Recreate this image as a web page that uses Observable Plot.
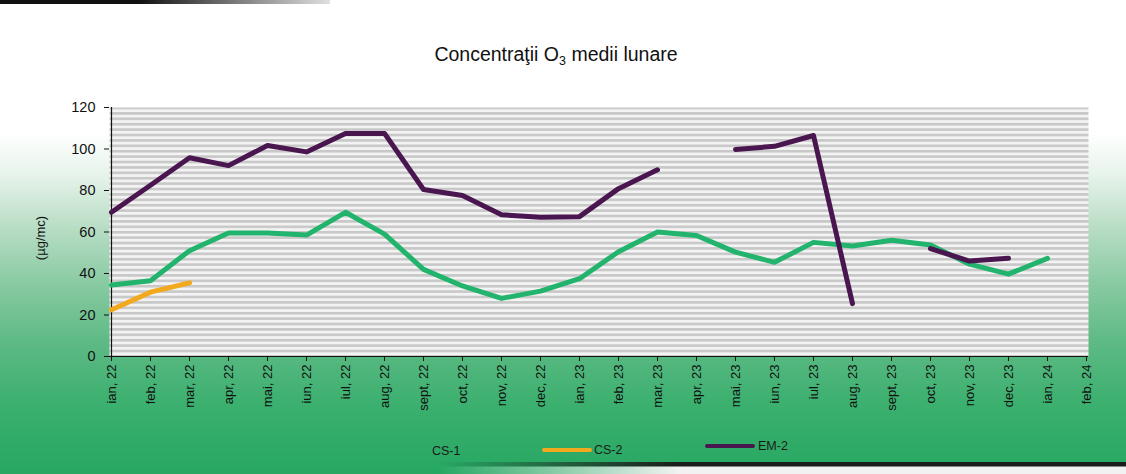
<!DOCTYPE html>
<html>
<head>
<meta charset="utf-8">
<script src="https://cdn.jsdelivr.net/npm/d3@7"></script>
<script src="https://cdn.jsdelivr.net/npm/@observablehq/plot@0.6"></script>
<style>
  html, body { margin: 0; padding: 0; }
  body { width: 1126px; height: 474px; overflow: hidden; font-family: "Liberation Sans", Arial, sans-serif; }
  #page {
    position: relative; width: 1126px; height: 474px; overflow: hidden;
    background: linear-gradient(to bottom, #ffffff 0%, #ffffff 28%, #e6f3ea 37%, #b8ddc5 48%, #88caa2 60%, #5eba85 72%, #3cb06f 85%, #26a862 100%);
  }
  #topbar { position: absolute; left: 0; top: 0; width: 330px; height: 4px;
    background: linear-gradient(to right, #111 0%, #111 42%, rgba(0,0,0,0.12) 100%); }
  #bottombar { position: absolute; left: 440px; top: 462px; width: 686px; height: 12px;
    background: linear-gradient(to bottom, #1b1b1b 0px, #1b1b1b 4px, #f2f2f2 5px, #f2f2f2 12px);
    -webkit-mask-image: linear-gradient(to right, transparent 0%, black 35%);
    mask-image: linear-gradient(to right, transparent 0%, black 35%); }
  #title { position: absolute; left: 0; top: 41px; width: 1112px; text-align: center;
    font-size: 19.5px; line-height: 26px; color: #111; }
  #title sub { font-size: 12.5px; vertical-align: -4px; line-height: 0; }
  #ylabel { position: absolute; left: 40px; top: 238px; transform: translate(-50%, -50%) rotate(-90deg);
    font-size: 13px; color: #111; white-space: nowrap; }
  #chart { position: absolute; left: 0; top: 90px; }
  #chart svg g[aria-label="y-axis tick label"] text { font-size: 14.5px; }
  #chart svg g[aria-label="x-axis tick label"] text { font-size: 13px; }
  .leg { position: absolute; font-size: 12.5px; color: #1a1a1a; line-height: 14px; }
  .legline { position: absolute; height: 4px; border-radius: 2px; }
</style>
</head>
<body>
<div id="page">
  <div id="topbar"></div>
  <div id="title">Concentraţii O<sub>3</sub> medii lunare</div>
  <div id="chart"></div>
  <div id="ylabel">(µg/mc)</div>
  <div class="leg" style="left:432px; top:444px;">CS-1</div>
  <div class="legline" style="left:542px; top:448px; width:50px; background:#f2a91e;"></div>
  <div class="leg" style="left:594px; top:443px;">CS-2</div>
  <div class="legline" style="left:705px; top:444px; width:50px; background:#4a1650;"></div>
  <div class="leg" style="left:758px; top:439px;">EM-2</div>
  <div id="bottombar"></div>
</div>
<script>
const months = ["ian, 22","feb, 22","mar, 22","apr, 22","mai, 22","iun, 22","iul, 22","aug, 22","sept, 22","oct, 22","nov, 22","dec, 22",
  "ian, 23","feb, 23","mar, 23","apr, 23","mai, 23","iun, 23","iul, 23","aug, 23","sept, 23","oct, 23","nov, 23","dec, 23","ian, 24","feb, 24"];
const cs1 = [34.5, 36.5, 51, 59.5, 59.5, 58.5, 69.5, 59, 42, 34, 28, 31.5, 37.5, 50.5, 60, 58.3, 50.3, 45.4, 55, 53.3, 56, 53.7, 44.5, 39.7, 47.3, null];
const cs2 = [22.5, 31, 35.5, null, null, null, null, null, null, null, null, null, null, null, null, null, null, null, null, null, null, null, null, null, null, null];
const em2 = [69.5, 82.5, 95.8, 92, 101.7, 98.6, 107.5, 107.5, 80.5, 77.6, 68.3, 67.1, 67.4, 80.9, 90, null, 99.8, 101.3, 106.5, 25.5, null, 52, 46, 47.3, null, null];
const seriesNames = ["CS-1", "CS-2", "EM-2"];
const seriesColors = ["#22b46c", "#f2a91e", "#4a1650"];
const yTicks = [0, 20, 40, 60, 80, 100, 120];

const table = [];
[cs1, cs2, em2].forEach((vals, s) => {
  months.forEach((m, i) => table.push({series: seriesNames[s], month: m, value: vals[i]}));
});

const lineOpts = (name, color) => ({
  filter: d => d.series === name,
  x: "month", y: "value", stroke: color, strokeWidth: 5,
  strokeLinecap: "round", strokeLinejoin: "round"
});

const chart = Plot.plot({
  width: 1126,
  height: 330,
  marginLeft: 109,
  marginRight: 38,
  marginTop: 17,
  marginBottom: 64,
  style: { fontFamily: "'Liberation Sans', Arial, sans-serif", fontSize: "13px", color: "#111", background: "transparent" },
  x: { type: "point", domain: months, padding: 0 },
  y: { domain: [0, 120] },
  marks: [
    Plot.frame({ fill: "url(#stripes)" }),
    Plot.axisY({ ticks: yTicks, tickSize: 5, tickPadding: 9, label: null }),
    Plot.axisX({ tickSize: 5, tickPadding: 3, tickRotate: -90, label: null }),
    Plot.ruleY([0], { stroke: "#111", strokeWidth: 1.2 }),
    Plot.ruleX([months[0]], { stroke: "#111", strokeWidth: 1.2 }),
    Plot.line(table, lineOpts(seriesNames[0], seriesColors[0])),
    Plot.line(table, lineOpts(seriesNames[1], seriesColors[1])),
    Plot.line(table, lineOpts(seriesNames[2], seriesColors[2]))
  ]
});

// striped fill pattern for the plot area
const svg = d3.select(chart);
const defs = svg.insert("defs", ":first-child");
const pat = defs.append("pattern").attr("id", "stripes").attr("patternUnits", "userSpaceOnUse")
  .attr("width", 8).attr("height", 5.4);
pat.append("rect").attr("width", 8).attr("height", 5.4).attr("fill", "#f3f3f3");
pat.append("rect").attr("width", 8).attr("height", 2.6).attr("fill", "#c8c8c8");

document.getElementById("chart").appendChild(chart);
</script>
</body>
</html>
